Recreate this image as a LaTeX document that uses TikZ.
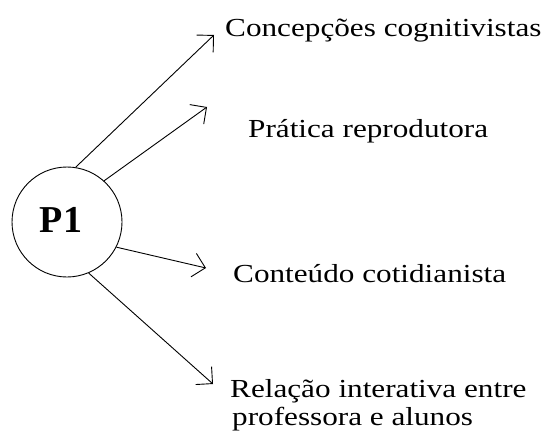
\documentclass[tikz,border=0pt]{standalone}
\usepackage{fontspec}
\setmainfont{Liberation Serif}[FakeStretch=1.2]
\newfontfamily\pfont{Liberation Serif}
\usetikzlibrary{arrows.meta}
\begin{document}
\begin{tikzpicture}[x=1pt,y=-1pt,
  arr/.style={line width=0.9pt,-{Straight Barb[length=12pt,width=24pt,line width=0.9pt]}},
  lbl/.style={anchor=base west,inner sep=0pt,font=\fontsize{26}{28}\selectfont},
  ring/.style={circle,draw,line width=0.9pt,minimum size=110pt,inner sep=0pt}]
\useasboundingbox[fill=white] (0,0) rectangle (545,438);
\node[ring,label={[xshift=-6pt,yshift=2pt,font=\pfont\bfseries\fontsize{38}{40}\selectfont]center:P1}] (c) at (67,222) {};
\node[lbl] (t1) at (225,37) {Concepções cognitivistas};
\node[lbl] (t2) at (248,138) {Prática reprodutora};
\node[lbl] (t3) at (233,282) {Conteúdo cotidianista};
\node[lbl] (t4) at (230,397) {Relação interativa entre};
\node[lbl] (t5) at (232,425) {professora e alunos};
\coordinate (e1) at (214,35);
\coordinate (e2) at (207,107);
\coordinate (e3) at (206,268);
\coordinate (e4) at (213,384);
\draw[arr] (c.81.6) -- (e1);
\draw[arr] (c.48.8) -- (e2);
\draw[arr] (c.-27.5) -- (e3);
\draw[arr] (c.-67) -- (e4);
\end{tikzpicture}
\end{document}
